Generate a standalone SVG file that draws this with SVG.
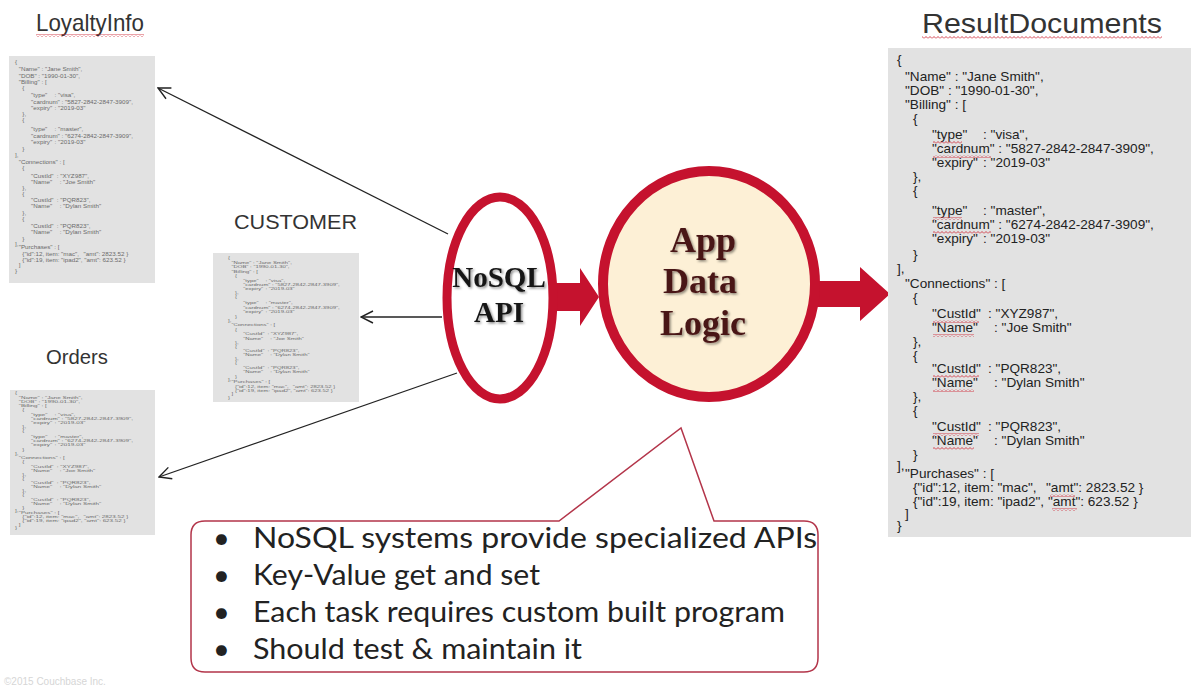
<svg xmlns="http://www.w3.org/2000/svg" xmlns:xlink="http://www.w3.org/1999/xlink" width="1193" height="690" viewBox="0 0 1193 690">
<style>
.title{font-family:"Liberation Sans",Arial,sans-serif;fill:#333;}
.doc{fill:#e2e2e2;}
.json{font-family:"Liberation Sans",Arial,sans-serif;font-size:13.6px;}
.conn{stroke:#222;stroke-width:1.3;fill:none;}
.red{fill:#c5122e;}
.ring{stroke:#c5122e;}
.serif{font-family:"Liberation Serif","Times New Roman",serif;font-weight:bold;text-anchor:middle;}
.bul{font-family:Lato,"Liberation Sans",sans-serif;font-size:29px;fill:#222;}
</style>
<defs>
<marker id="open" viewBox="0 0 14 14" refX="13" refY="7" markerWidth="14" markerHeight="14" markerUnits="userSpaceOnUse" orient="auto">
<path d="M1,1 L13,7 L1,13" fill="none" stroke="#222" stroke-width="1.4"/>
</marker>
<pattern id="sq" width="4" height="3" patternUnits="userSpaceOnUse">
<path d="M0,2.5 L2,0.5 L4,2.5" fill="none" stroke="#d0313d" stroke-width="0.9"/>
</pattern>
<filter id="sh" x="-20%" y="-20%" width="140%" height="140%">
<feDropShadow dx="1.5" dy="1.5" stdDeviation="1" flood-color="#000" flood-opacity="0.45"/>
</filter>
</defs>
<rect width="1193" height="690" fill="#ffffff"/>

<g id="connectors">
<line class="conn" x1="448" y1="234" x2="158" y2="88" marker-end="url(#open)"/>
<line class="conn" x1="442" y1="317" x2="361" y2="317" marker-end="url(#open)"/>
<line class="conn" x1="457" y1="373" x2="159" y2="477" marker-end="url(#open)"/>
<path class="red" d="M554,283 L580,283 L580,268 L599,297 L580,326 L580,311 L554,311 Z"/>
<path class="red" d="M814,281 L860,281 L860,267 L890,294 L860,321 L860,307 L814,307 Z"/>
</g>

<g id="loyaltyinfo">
<text class="title" x="36" y="31" font-size="24" textLength="108" lengthAdjust="spacingAndGlyphs">LoyaltyInfo</text>
<rect x="36" y="34" width="108" height="3" fill="url(#sq)"/>
<rect class="doc" x="9" y="56" width="146" height="227"/>
<use xlink:href="#jsonText" href="#jsonText" fill="#6a6a6a" transform="translate(-397.6,35.1) scale(0.46,0.448)"/>
</g>

<g id="customer">
<text class="title" x="234" y="229" font-size="20" textLength="123" lengthAdjust="spacingAndGlyphs">CUSTOMER</text>
<rect class="doc" x="213" y="253" width="146" height="149"/>
<use xlink:href="#jsonText" href="#jsonText" fill="#6a6a6a" transform="translate(-162.2,240) scale(0.435,0.3)"/>
</g>

<g id="orders">
<text class="title" x="46" y="364" font-size="20.5" textLength="62" lengthAdjust="spacingAndGlyphs">Orders</text>
<rect class="doc" x="10" y="390" width="145" height="145"/>
<use xlink:href="#jsonText" href="#jsonText" fill="#6a6a6a" transform="translate(-397.6,375.6) scale(0.46,0.29)"/>
</g>

<g id="nosql-api">
<ellipse cx="500" cy="298" rx="53" ry="101" fill="#ffffff" class="ring" stroke-width="9"/>
<g filter="url(#sh)" fill="#161616">
<text class="serif" x="499" y="287" font-size="29">NoSQL</text>
<text class="serif" x="499" y="322" font-size="29">API</text>
</g>
</g>

<g id="app-data-logic">
<ellipse cx="709" cy="284" rx="106" ry="113" fill="#fdf0d6" class="ring" stroke-width="10"/>
<g filter="url(#sh)" fill="#4a1717">
<text class="serif" x="703" y="252" font-size="36">App</text>
<text class="serif" x="700" y="293" font-size="36">Data</text>
<text class="serif" x="703" y="335" font-size="36">Logic</text>
</g>
</g>

<g id="resultdocuments">
<text class="title" x="922" y="33" font-size="28" textLength="240" lengthAdjust="spacingAndGlyphs">ResultDocuments</text>
<rect x="922" y="36" width="240" height="3" fill="url(#sq)"/>
<rect class="doc" x="888" y="48" width="303" height="489"/>
<g fill="#222">
<g id="jsonText" class="json">
<text x="897" y="64">{</text>
<text x="905" y="81">"Name" : "Jane Smith",</text>
<text x="905" y="95">"DOB" : "1990-01-30",</text>
<text x="905" y="109">"Billing" : [</text>
<text x="913" y="123">{</text>
<text x="932" y="139">"type"<tspan x="983">: "visa",</tspan></text>
<text x="932" y="153">"cardnum" : "5827-2842-2847-3909",</text>
<text x="932" y="167">"expiry"<tspan x="983">: "2019-03"</tspan></text>
<text x="913" y="181">},</text>
<text x="913" y="195">{</text>
<text x="932" y="215">"type"<tspan x="983">: "master",</tspan></text>
<text x="932" y="229">"cardnum" : "6274-2842-2847-3909",</text>
<text x="932" y="243">"expiry"<tspan x="983">: "2019-03"</tspan></text>
<text x="913" y="259">}</text>
<text x="897" y="273">],</text>
<text x="905" y="288">"Connections" : [</text>
<text x="913" y="302">{</text>
<text x="932" y="318">"CustId"<tspan x="988">: "XYZ987",</tspan></text>
<text x="932" y="332">"Name"<tspan x="994">: "Joe Smith"</tspan></text>
<text x="913" y="346">},</text>
<text x="913" y="360">{</text>
<text x="932" y="373">"CustId"<tspan x="988">: "PQR823",</tspan></text>
<text x="932" y="387">"Name"<tspan x="994">: "Dylan Smith"</tspan></text>
<text x="913" y="401">},</text>
<text x="913" y="415">{</text>
<text x="932" y="431">"CustId"<tspan x="988">: "PQR823",</tspan></text>
<text x="932" y="445">"Name"<tspan x="994">: "Dylan Smith"</tspan></text>
<text x="913" y="459">}</text>
<text x="897" y="470">],</text>
<text x="905" y="478">"Purchases" : [</text>
<text x="913" y="492">{"id":12, item: "mac",<tspan x="1046">"amt": 2823.52 }</tspan></text>
<text x="913" y="506">{"id":19, item: "ipad2", "amt": 623.52 }</text>
<text x="905" y="518">]</text>
<text x="897" y="530">}</text>
</g>
</g>
<g id="spellmarks">
<rect x="933" y="141" width="29" height="3" fill="url(#sq)"/>
<rect x="933" y="155" width="58" height="3" fill="url(#sq)"/>
<rect x="933" y="217" width="29" height="3" fill="url(#sq)"/>
<rect x="933" y="231" width="58" height="3" fill="url(#sq)"/>
<rect x="933" y="320" width="46" height="3" fill="url(#sq)"/>
<rect x="933" y="334" width="41" height="3" fill="url(#sq)"/>
<rect x="933" y="375" width="46" height="3" fill="url(#sq)"/>
<rect x="933" y="389" width="41" height="3" fill="url(#sq)"/>
<rect x="933" y="433" width="46" height="3" fill="url(#sq)"/>
<rect x="933" y="447" width="41" height="3" fill="url(#sq)"/>
<rect x="1050" y="494" width="25" height="3" fill="url(#sq)"/>
<rect x="1052" y="508" width="25" height="3" fill="url(#sq)"/>
</g>
</g>

<g id="callout">
<path d="M205,521 L559,521 L681,428 L714,521 L804,521 Q818,521 818,535 L818,658 Q818,672 804,672 L205,672 Q191,672 191,658 L191,535 Q191,521 205,521 Z" fill="#ffffff" stroke="#b3354a" stroke-width="1.5"/>
<text class="bul" x="213" y="548">•</text>
<text class="bul" x="253" y="548" textLength="564" lengthAdjust="spacingAndGlyphs">NoSQL systems provide specialized APIs</text>
<text class="bul" x="213" y="585">•</text>
<text class="bul" x="253" y="585" textLength="287" lengthAdjust="spacingAndGlyphs">Key-Value get and set</text>
<text class="bul" x="213" y="622">•</text>
<text class="bul" x="253" y="622" textLength="532" lengthAdjust="spacingAndGlyphs">Each task requires custom built program</text>
<text class="bul" x="213" y="659">•</text>
<text class="bul" x="253" y="659" textLength="329" lengthAdjust="spacingAndGlyphs">Should test &amp; maintain it</text>
</g>

<text x="4" y="685" font-family="Liberation Sans, Arial, sans-serif" font-size="10" fill="#d6d6d6">©2015 Couchbase Inc.</text>
</svg>
